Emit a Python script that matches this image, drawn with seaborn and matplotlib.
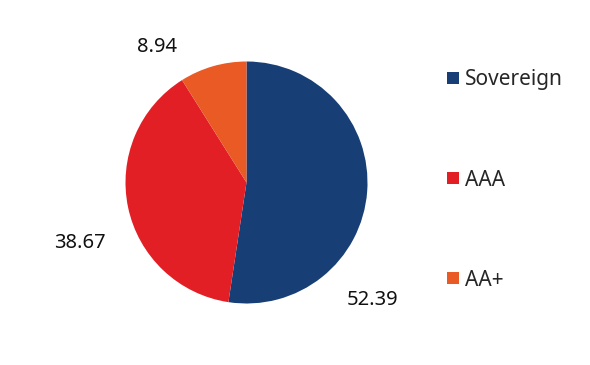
import matplotlib
matplotlib.use("Agg")
import matplotlib.pyplot as plt
from matplotlib.lines import Line2D
import seaborn as sns

categories = ["Sovereign", "AAA", "AA+"]
values = [52.39, 38.67, 8.94]
value_labels = ["52.39", "38.67", "8.94"]
colors = ["#173e75", "#e31f26", "#ea5a24"]
# label anchor positions in pie radius units (best-fit style placement)
label_pos = [(1.04, -0.97), (-1.38, -0.50), (-0.74, 1.12)]

sns.set_theme(style="white")
plt.rcParams["font.family"] = ["Noto Sans", "DejaVu Sans"]

fig = plt.figure(figsize=(5.9, 3.65), dpi=100)
W, H = 590, 365
cx, cy, r = 246.5, 182.5, 121
lim = 1.3
half = lim * r
ax = fig.add_axes([(cx - half) / W, (H - cy - half) / H, 2 * half / W, 2 * half / H])

ax.pie(values, colors=colors, startangle=90, counterclock=False,
       wedgeprops=dict(linewidth=0))
ax.set_xlim(-lim, lim)
ax.set_ylim(-lim, lim)
ax.set_aspect("equal")
ax.axis("off")

for (x, y), t in zip(label_pos, value_labels):
    ax.text(x, y, t, ha="center", va="center", fontsize=14.5, color="#111111")

handles = [Line2D([0], [0], marker="s", linestyle="none", markersize=8.5,
                  markerfacecolor=c, markeredgewidth=0) for c in colors]
fig.legend(handles, categories, loc="upper left", bbox_to_anchor=(434 / W, 1 - 61 / H),
           frameon=False, fontsize=15, labelspacing=3.8, handletextpad=0.1,
           handlelength=1.0, borderaxespad=0)

fig.savefig("out.png", dpi=100, facecolor="white")
